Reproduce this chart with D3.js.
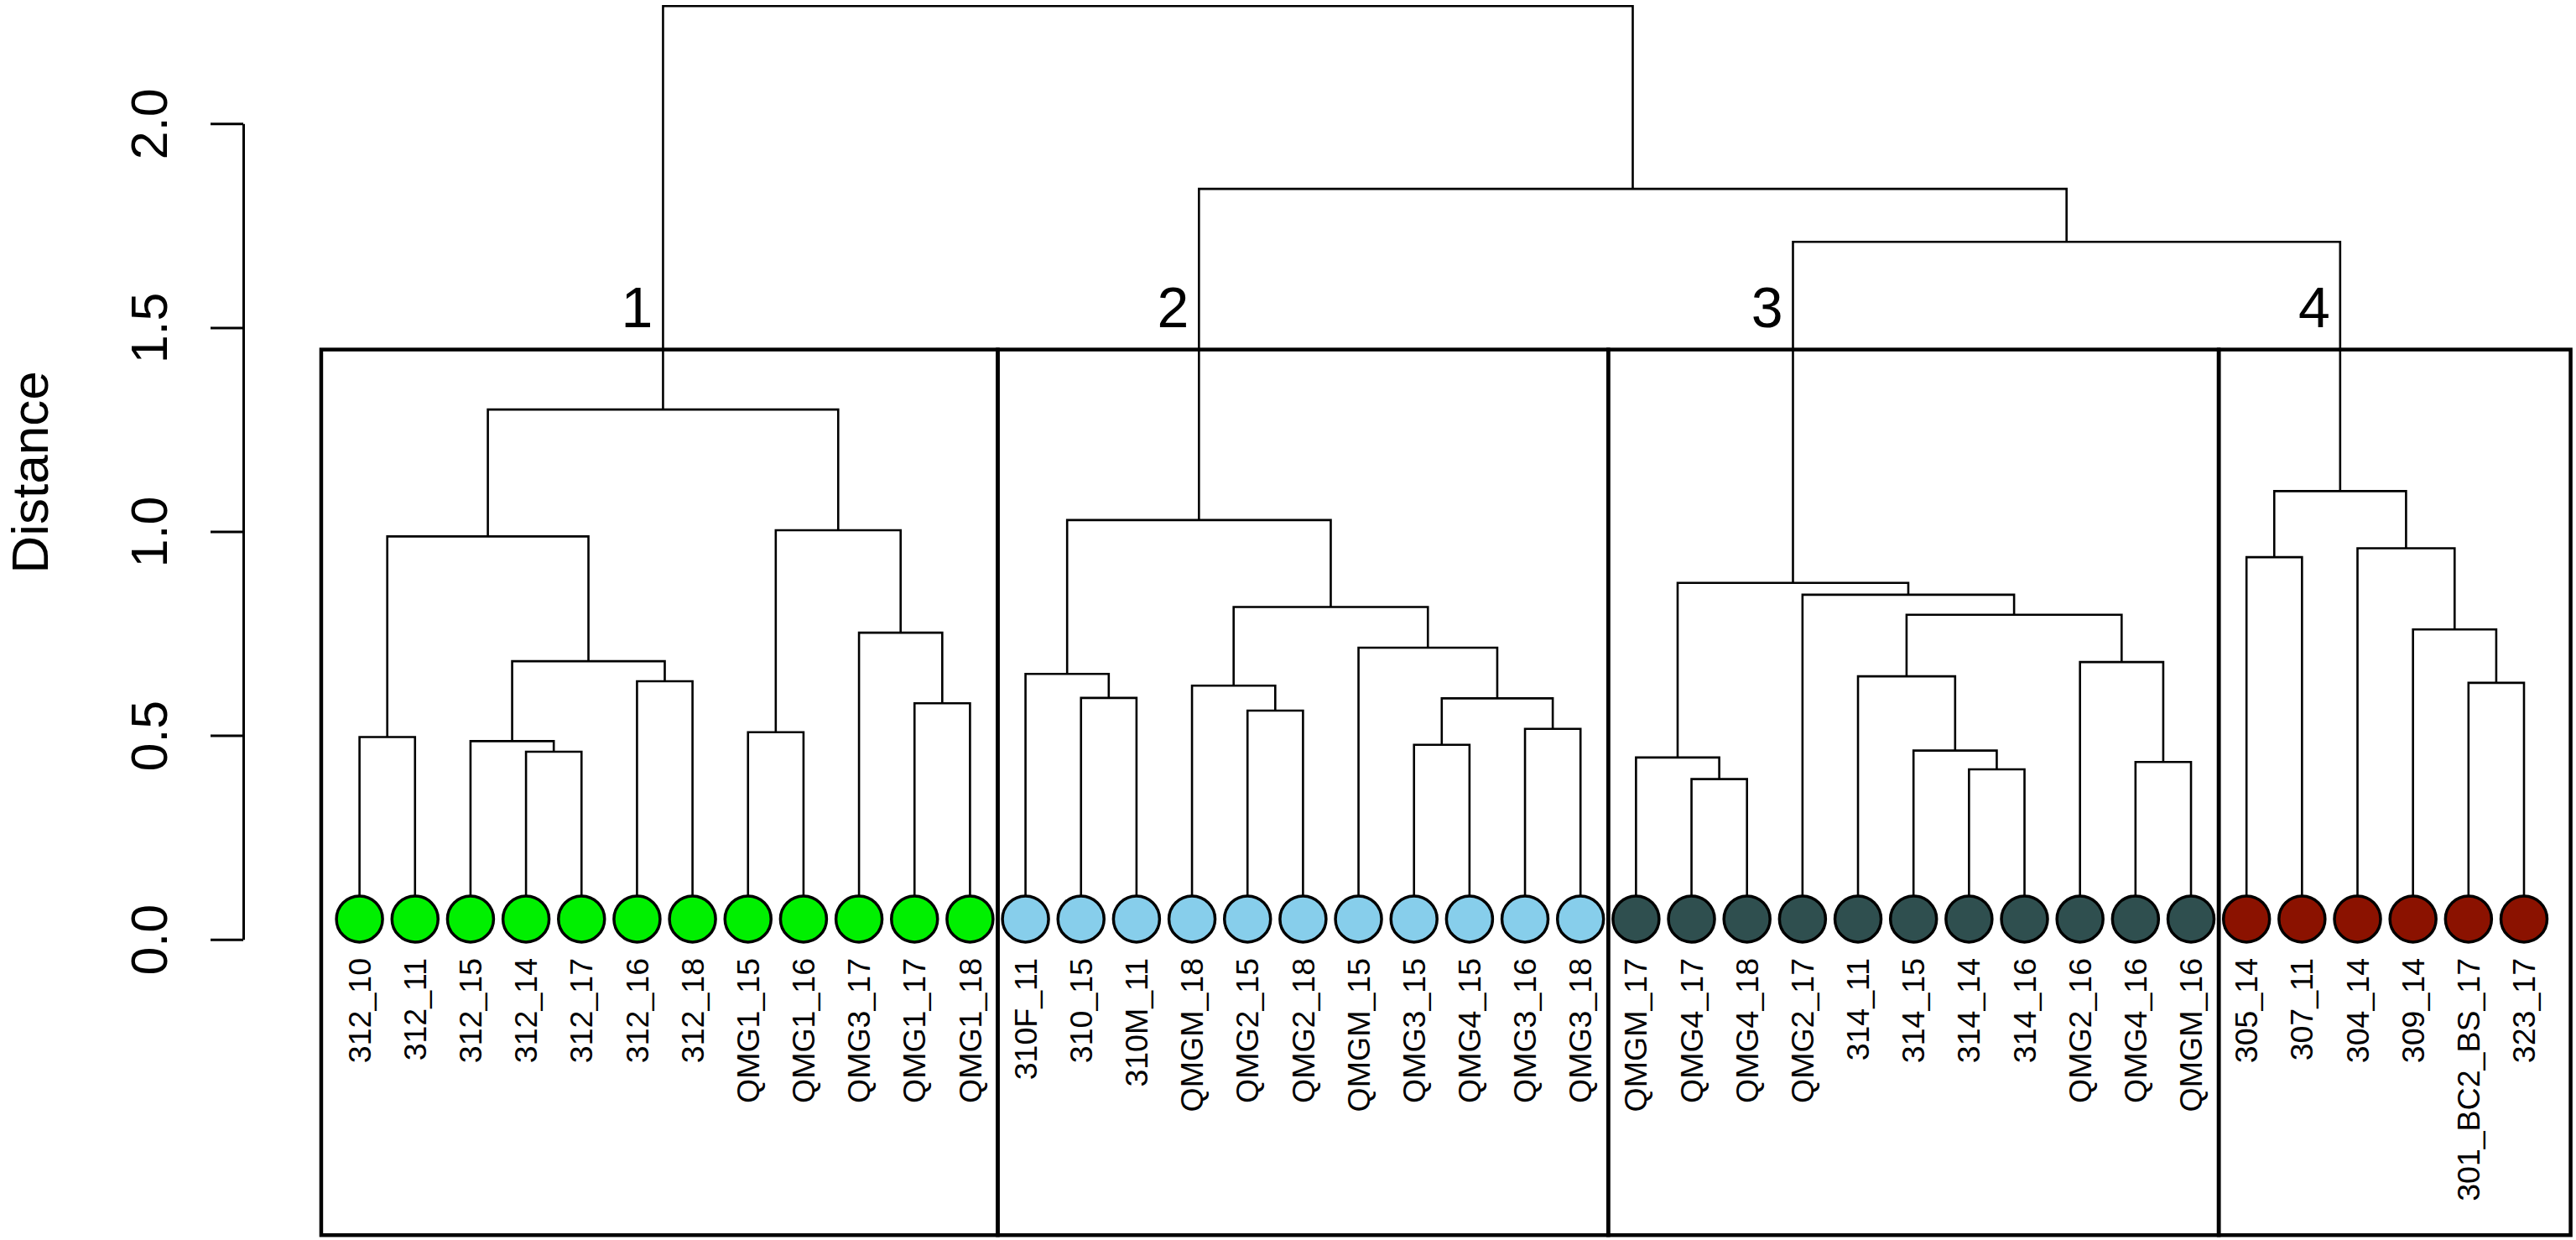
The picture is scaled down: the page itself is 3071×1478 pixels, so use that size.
<!DOCTYPE html>
<html>
<head>
<meta charset="utf-8">
<script src="https://cdn.jsdelivr.net/npm/d3@7.9.0/dist/d3.min.js"></script>
<style>
  html, body { margin: 0; padding: 0; background: #fff; }
  svg { display: block; font-family: "Liberation Sans", Arial, Helvetica, sans-serif; }
</style>
</head>
<body>
<svg id="chart" width="3071" height="1478"></svg>
<script>
// ------------------- Data -------------------
// leaves in plotted order
const leafLabels = [
  '312_10', '312_11', '312_15', '312_14', '312_17', '312_16', '312_18',
  'QMG1_15', 'QMG1_16', 'QMG3_17', 'QMG1_17', 'QMG1_18',
  '310F_11', '310_15', '310M_11', 'QMGM_18', 'QMG2_15', 'QMG2_18',
  'QMGM_15', 'QMG3_15', 'QMG4_15', 'QMG3_16', 'QMG3_18',
  'QMGM_17', 'QMG4_17', 'QMG4_18', 'QMG2_17', '314_11', '314_15',
  '314_14', '314_16', 'QMG2_16', 'QMG4_16', 'QMGM_16',
  '305_14', '307_11', '304_14', '309_14', '301_BC2_BS_17', '323_17'
];

// cluster of each leaf (1..4)
const leafCluster = [
  1, 1, 1, 1, 1, 1, 1, 1, 1, 1, 1, 1,
  2, 2, 2, 2, 2, 2, 2, 2, 2, 2, 2,
  3, 3, 3, 3, 3, 3, 3, 3, 3, 3, 3,
  4, 4, 4, 4, 4, 4
];

const clusterNames = ['1', '2', '3', '4'];
const clusterColors = ['#00f000', '#87ceeb', '#2f4f4f', '#8b1200'];

// hclust-style merge table: negative = leaf (1-based), positive = earlier merge row
const merges = [
  [-4, -5], [-3, 1], [-1, -2], [-6, -7], [2, 4], [3, 5],
  [-8, -9], [-11, -12], [-10, 8], [7, 9], [6, 10],
  [-14, -15], [-13, 12], [-17, -18], [-16, 14], [-20, -21], [-22, -23],
  [16, 17], [-19, 18], [15, 19], [13, 20],
  [-25, -26], [-24, 22], [-30, -31], [-29, 24], [-28, 25], [-33, -34],
  [-32, 27], [26, 28], [-27, 29], [23, 30],
  [-35, -36], [-39, -40], [-38, 33], [-37, 34], [32, 35],
  [31, 36], [21, 37], [11, 38]
];
const mergeHeights = [
  0.460, 0.486, 0.496, 0.633, 0.682, 0.988,
  0.508, 0.579, 0.752, 1.003, 1.299,
  0.592, 0.651, 0.561, 0.622, 0.477, 0.516,
  0.591, 0.715, 0.815, 1.028,
  0.393, 0.446, 0.417, 0.463, 0.645, 0.435,
  0.680, 0.796, 0.845, 0.874,
  0.937, 0.629, 0.760, 0.959, 1.099,
  1.710, 1.840, 2.288
];

// merge rows that form the top of each cluster
const clusterTops = [11, 21, 31, 36];
const boxHeight = 1.446;
const leafHeight = 0.05;
const yTicks = [0, 0.5, 1, 1.5, 2];

// ------------------- Scales -------------------
const svg = d3.select('#chart');
const xScale = d3.scaleLinear().domain([0, leafLabels.length - 1]).range([428.6, 3009]);
const yScale = d3.scaleLinear().domain([0, 2]).range([1119.7, 147.3]);

// ------------------- Tree -------------------
function build(ref) {
  if (ref < 0) return { leaf: -ref - 1, name: leafLabels[-ref - 1] };
  const [a, b] = merges[ref - 1];
  return { row: ref, height: mergeHeights[ref - 1], children: [build(a), build(b)] };
}
const root = d3.hierarchy(build(merges.length));
root.eachAfter(n => {
  n.px = n.children ? d3.mean(n.children, c => c.px) : xScale(n.data.leaf);
  n.py = yScale(n.children ? n.data.height : leafHeight);
});

// ------------------- Cluster boxes -------------------
const boxG = svg.append('g');
const bounds = [];
clusterNames.forEach((c, i) => {
  const idx = leafCluster.map((k, j) => k === i + 1 ? j : -1).filter(j => j >= 0);
  bounds.push([d3.min(idx), d3.max(idx)]);
});
bounds.forEach(([lo, hi], i) => {
  const left = i === 0 ? xScale(lo - 0.69) : xScale(lo - 0.5);
  const right = i === bounds.length - 1 ? xScale(hi + 0.84) : xScale(hi + 0.5);
  boxG.append('rect')
    .attr('x', left)
    .attr('y', yScale(boxHeight))
    .attr('width', right - left)
    .attr('height', yScale(-0.725) - yScale(boxHeight))
    .attr('fill', 'none')
    .attr('stroke', '#000')
    .attr('stroke-width', 4.5);
});

// ------------------- Dendrogram links -------------------
svg.append('g')
  .selectAll('path')
  .data(root.descendants().filter(d => d.children))
  .join('path')
  .attr('d', d => {
    const [a, b] = d.children;
    return `M${a.px},${a.py}V${d.py}H${b.px}V${b.py}`;
  })
  .attr('fill', 'none')
  .attr('stroke', '#000')
  .attr('stroke-width', 2.6);

// ------------------- Leaves -------------------
svg.append('g')
  .selectAll('circle')
  .data(root.leaves())
  .join('circle')
  .attr('cx', d => d.px)
  .attr('cy', d => d.py)
  .attr('r', 27.5)
  .attr('fill', d => clusterColors[leafCluster[d.data.leaf] - 1])
  .attr('stroke', '#000')
  .attr('stroke-width', 3.5);

svg.append('g')
  .selectAll('text')
  .data(root.leaves())
  .join('text')
  .attr('transform', d => `translate(${d.px},1142) rotate(-90)`)
  .attr('dy', '0.35em')
  .attr('text-anchor', 'end')
  .attr('font-size', 37.5)
  .text(d => d.data.name);

// ------------------- Cluster numbers -------------------
const topNodes = root.descendants().filter(d => clusterTops.includes(d.data.row));
svg.append('g')
  .selectAll('text')
  .data(topNodes)
  .join('text')
  .attr('x', d => d.px - 12)
  .attr('y', yScale(1.5))
  .attr('text-anchor', 'end')
  .attr('font-size', 68)
  .text(d => clusterNames[clusterTops.indexOf(d.data.row)]);

// ------------------- Y axis -------------------
const yAxis = svg.append('g')
  .attr('transform', 'translate(290,0)')
  .call(d3.axisLeft(yScale).tickValues(yTicks).tickSize(39).tickSizeOuter(0).tickFormat(d3.format('.1f')));
yAxis.select('.domain').attr('stroke-width', 3);
yAxis.selectAll('.tick line').attr('stroke-width', 3);
yAxis.selectAll('.tick text')
  .attr('x', null).attr('dy', null)
  .attr('transform', 'translate(-91,0) rotate(-90)')
  .attr('text-anchor', 'middle')
  .attr('font-size', 61)
  .attr('font-family', '"Liberation Sans", Arial, sans-serif')
  .attr('fill', '#000');

svg.append('text')
  .attr('transform', 'translate(57,563) rotate(-90)')
  .attr('text-anchor', 'middle')
  .attr('font-size', 62)
  .text('Distance');
</script>
</body>
</html>
